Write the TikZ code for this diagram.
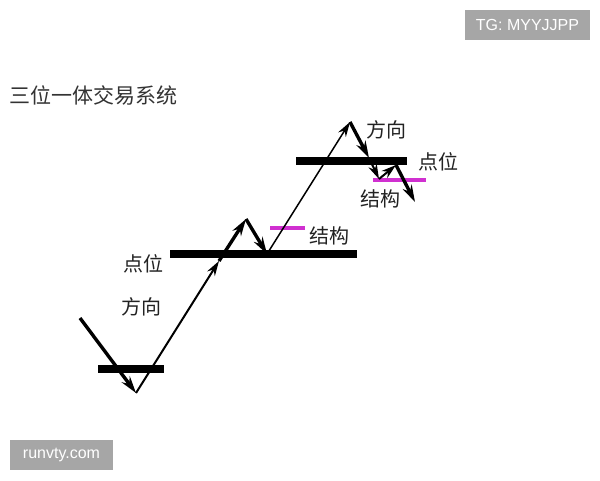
\documentclass[tikz,border=0pt]{standalone}
\usepackage{fontspec}
\setmainfont{Liberation Sans}
\newfontfamily\cjk{Noto Sans CJK SC}
\usetikzlibrary{arrows.meta}
\definecolor{mag}{HTML}{D030D0}
\definecolor{wm}{HTML}{A6A6A6}
\definecolor{txt}{HTML}{222222}
\tikzset{
  barline/.style={line width=8.5pt},
  mvthick/.style={line width=3.4pt,-{Stealth[length=17pt,width=10pt]}},
  mvthin/.style={line width=2pt,-{Stealth[length=15pt,width=9pt]}},
  magline/.style={line width=3.5pt,mag},
  lbl/.style={font=\cjk\fontsize{20}{20}\selectfont,text=txt,inner sep=0pt},
  wmbox/.style={fill=wm,text=white,font=\fontsize{16}{16}\selectfont,inner sep=0pt,minimum height=30pt}
}
\begin{document}
\begin{tikzpicture}[x=1pt,y=-1pt]
\useasboundingbox (0,0) rectangle (600,480);
\fill[white] (0,0) rectangle (600,480);
% watermarks
\node[wmbox,minimum width=125pt] (tg) at (527.5,25) {TG: MYYJJPP};
\node[wmbox,minimum width=103pt] (rv) at (61.5,455) {runvty.com};
% title
\node[lbl,anchor=west,font=\cjk\fontsize{21}{21}\selectfont,text=black!80] (title) at (9,95) {三位一体交易系统};
% points
\coordinate (s0) at (80,318);
\coordinate (b1) at (136,393);
\coordinate (m1) at (219,261);
\coordinate (a1) at (246,219);
\coordinate (b2) at (267,254);
\coordinate (a2) at (350,122);
\coordinate (m2) at (369,158);
\coordinate (b3) at (379,179);
\coordinate (m3) at (396,165);
\coordinate (e) at (415,202);
% bars
\coordinate (bar1l) at (98,369); \coordinate (bar1r) at (164,369);
\coordinate (bar2l) at (170,254); \coordinate (bar2r) at (357,254);
\coordinate (bar3l) at (296,161); \coordinate (bar3r) at (407,161);
\draw[barline] (bar1l) -- (bar1r);
\draw[barline] (bar2l) -- (bar2r);
\draw[barline] (bar3l) -- (bar3r);
% magenta
\coordinate (g1l) at (270,228); \coordinate (g1r) at (305,228);
\coordinate (g2l) at (373,180); \coordinate (g2r) at (426,180);
\draw[magline] (g1l) -- (g1r);
\draw[magline] (g2l) -- (g2r);
% moves
\draw[mvthick] (s0) -- (b1);
\draw[mvthin] (b1) -- (m1);
\draw[mvthick] (m1) -- (a1);
\draw[mvthick] (a1) -- (b2);
\draw[mvthin,line width=1.5pt] (b2) -- (a2);
\draw[mvthick] (a2) -- (m2);
\draw[mvthin] (m2) -- (b3);
\draw[mvthin] (b3) -- (m3);
\draw[mvthick] (m3) -- (e);
% labels
\node[lbl] (dir1) at (141,307) {方向};
\node[lbl] (pt1) at (143,264) {点位};
\node[lbl] (st1) at (329,236) {结构};
\node[lbl] (dir2) at (386,130) {方向};
\node[lbl] (pt2) at (438,162) {点位};
\node[lbl] (st2) at (380,199) {结构};
\end{tikzpicture}
\end{document}
